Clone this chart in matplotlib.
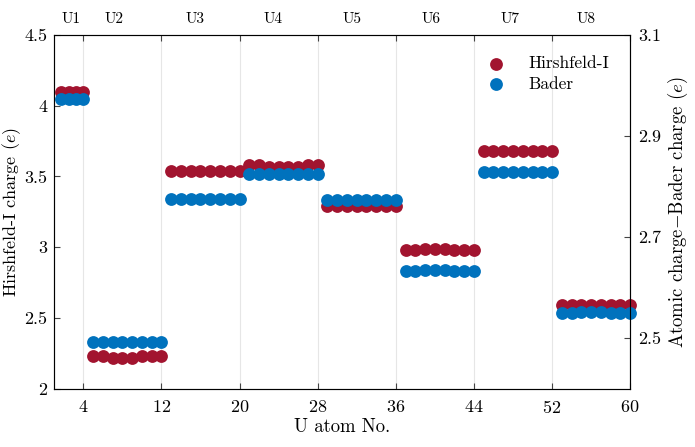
import numpy as np
import matplotlib
matplotlib.use('Agg')
import matplotlib.pyplot as plt

plt.rcParams['font.family'] = ['cmr10', 'DejaVu Serif']
plt.rcParams['mathtext.fontset'] = 'cm'
plt.rcParams['axes.formatter.use_mathtext'] = True

# data: 60 U atoms, grouped into 8 U sites (U1 squeezed into 1.75..4 on the plot)
atom_no = [1.75, 2.5, 3.25, 4] + list(range(5, 61))
hirshfeld = [4.10, 4.10, 4.10, 4.10,
             2.23, 2.23, 2.22, 2.22, 2.22, 2.23, 2.23, 2.23,
             3.54, 3.54, 3.54, 3.54, 3.54, 3.54, 3.54, 3.54,
             3.58, 3.58, 3.57, 3.57, 3.57, 3.57, 3.58, 3.58,
             3.29, 3.29, 3.29, 3.29, 3.29, 3.29, 3.29, 3.29,
             2.98, 2.98, 2.99, 2.99, 2.99, 2.98, 2.98, 2.98,
             3.68, 3.68, 3.68, 3.68, 3.68, 3.68, 3.68, 3.68,
             2.59, 2.59, 2.59, 2.59, 2.59, 2.59, 2.59, 2.59]
bader = [4.05, 4.05, 4.05, 4.05,
         2.33, 2.33, 2.33, 2.33, 2.33, 2.33, 2.33, 2.33,
         3.34, 3.34, 3.34, 3.34, 3.34, 3.34, 3.34, 3.34,
         3.52, 3.52, 3.52, 3.52, 3.52, 3.52, 3.52, 3.52,
         3.335, 3.335, 3.335, 3.335, 3.335, 3.335, 3.335, 3.335,
         2.83, 2.83, 2.84, 2.84, 2.84, 2.83, 2.83, 2.83,
         3.53, 3.53, 3.53, 3.53, 3.53, 3.53, 3.53, 3.53,
         2.535, 2.535, 2.54, 2.54, 2.54, 2.535, 2.535, 2.535]
site_labels = ['U1', 'U2', 'U3', 'U4', 'U5', 'U6', 'U7', 'U8']
site_pos = [2.8, 7.2, 15.4, 23.4, 31.5, 39.6, 47.7, 55.5]
x_ticks = [4, 12, 20, 28, 36, 44, 52, 60]
right_ticks = [2.5, 2.7, 2.9, 3.1]

red = '#A2142F'
blue = '#0072BD'

fig = plt.figure(figsize=(6.95, 4.47), dpi=100)
ax = fig.add_axes([0.0777, 0.130, 0.829, 0.792])

for xt in x_ticks:
    ax.axvline(xt, color='#e6e6e6', lw=0.8, zorder=0)

ax.scatter(atom_no, hirshfeld, s=85, color=red, linewidths=0, label='Hirshfeld-I',
           zorder=3, clip_on=False)
ax.scatter(atom_no, bader, s=85, color=blue, linewidths=0, label='Bader',
           zorder=4, clip_on=False)

ax.set_xlim(1, 60)
ax.set_ylim(2, 4.5)
ax.set_xticks(x_ticks)
ax.set_yticks([2, 2.5, 3, 3.5, 4, 4.5])
ax.set_yticklabels(['2', '2.5', '3', '3.5', '4', '4.5'])
ax.tick_params(direction='in', top=True, labelsize=13, length=4, color='#444444')
ax.tick_params(axis='x', pad=7)
ax.tick_params(axis='y', pad=5)
ax.set_xlabel('U atom No.', fontsize=13.5, labelpad=2)
ax.set_ylabel('Hirshfeld-I charge ($e$)', fontsize=13, labelpad=1)
for sp in ax.spines.values():
    sp.set_color('#555555')

ax2 = ax.twinx()
ax2.set_ylim(2.4, 3.1)
ax2.set_yticks(right_ticks)
ax2.set_yticklabels(['2.5', '2.7', '2.9', '3.1'])
ax2.tick_params(direction='in', labelsize=13, length=4, color='#444444', pad=6)
ax2.set_ylabel('Atomic charge$-$Bader charge ($e$)', fontsize=13.5, labelpad=3)

for lab, pos in zip(site_labels, site_pos):
    ax.text(pos, 1.045, lab, transform=ax.get_xaxis_transform(), ha='center',
            va='center', fontsize=11)

ax.legend(loc='upper right', bbox_to_anchor=(0.985, 0.975), frameon=False,
          fontsize=12.5, handletextpad=0.9, borderaxespad=0.3, scatterpoints=1,
          labelspacing=0.3)

fig.savefig('out.png', dpi=100)
